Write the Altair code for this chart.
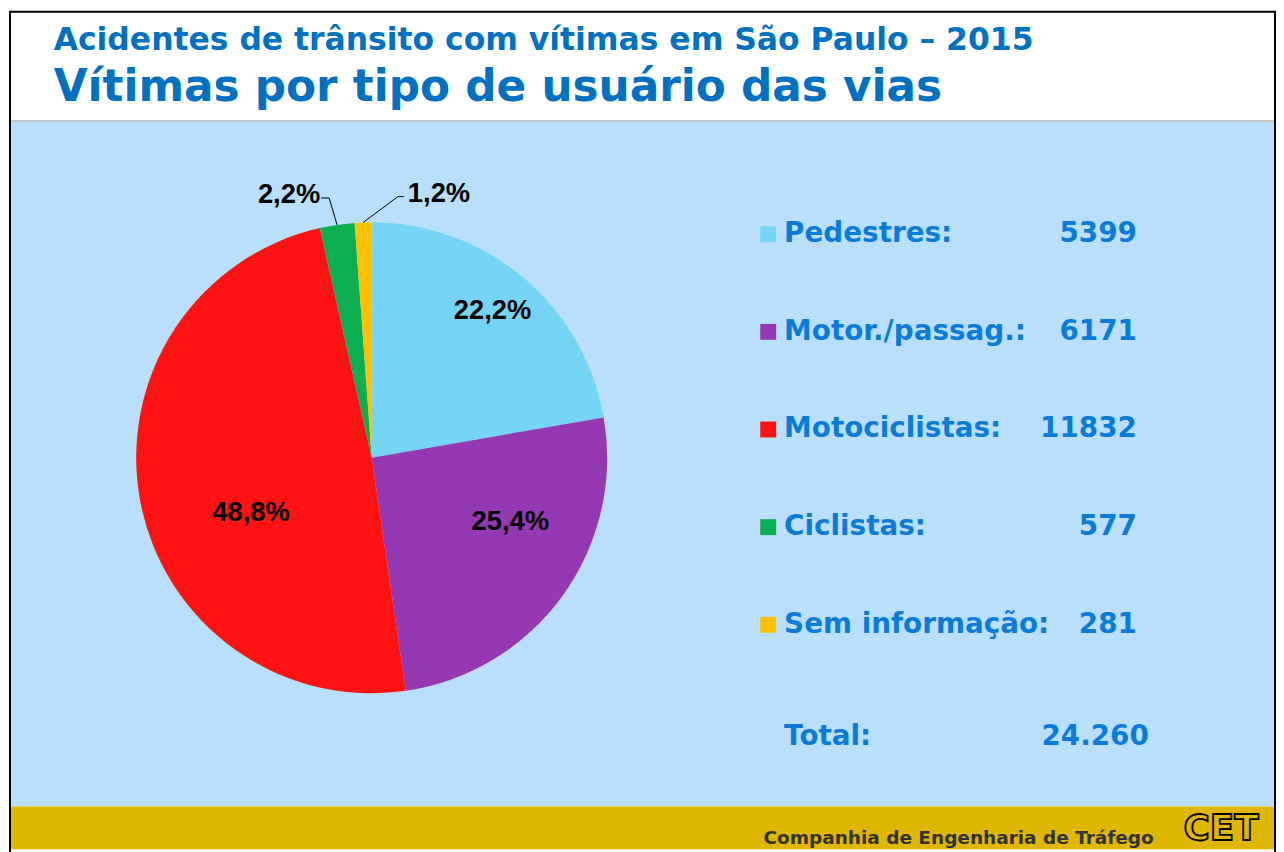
import altair as alt
import pandas as pd

# ---- data ----
categories = ["Pedestres", "Motor./passag.", "Motociclistas", "Ciclistas", "Sem informação"]
legend_labels = ["Pedestres:", "Motor./passag.:", "Motociclistas:", "Ciclistas:", "Sem informação:"]
victims = [5399, 6171, 11832, 577, 281]
pct_labels = ["22,2%", "25,4%", "48,8%", "2,2%", "1,2%"]
slice_colors = ["#76D4F6", "#9539B3", "#FF1212", "#0BAE50", "#FFC000"]

title_1 = "Acidentes de trânsito com vítimas em São Paulo – 2015"
title_2 = "Vítimas por tipo de usuário das vias"
footer_text = "Companhia de Engenharia de Tráfego"

df = pd.DataFrame({
    "cat": categories,
    "legend": legend_labels,
    "value": victims,
    "pct": pct_labels,
    "rank": list(range(1, len(categories) + 1)),
})

W, H = 1276, 844
CX, CY, R = 365, 450, 237
R_IN = 150
BLUE_T = "#0070C0"
BLUE_L = "#0A7CD8"
SANS = "DejaVu Sans"
ARIAL = "Liberation Sans"

base = alt.Chart(df)
deco = alt.Chart(pd.DataFrame({"k": [0]}))

color = alt.Color("cat:N", scale=alt.Scale(domain=categories, range=slice_colors), legend=None)

# ---- background pieces ----
header = deco.mark_rect(color="white").encode(
    x=alt.value(0), x2=alt.value(W), y=alt.value(0), y2=alt.value(111))
panel = deco.mark_rect(color="#B9DFFC").encode(
    x=alt.value(0), x2=alt.value(W), y=alt.value(112), y2=alt.value(801))
sep = deco.mark_rule(color="#C8C8C8", strokeWidth=2).encode(
    x=alt.value(0), x2=alt.value(W), y=alt.value(111))
footer = deco.mark_rect(color="#E0B700").encode(
    x=alt.value(0), x2=alt.value(W), y=alt.value(801), y2=alt.value(H))
frame = deco.mark_rect(fill="transparent", stroke="black", strokeWidth=2).encode(
    x=alt.value(1), x2=alt.value(W - 2), y=alt.value(1), y2=alt.value(H + 10))

t1 = deco.mark_text(text=title_1, align="left", baseline="alphabetic", font=SANS,
                    fontWeight="bold", fontSize=31.6, color=BLUE_T).encode(
    x=alt.value(45), y=alt.value(40))
t2 = deco.mark_text(text=title_2, align="left", baseline="alphabetic", font=SANS,
                    fontWeight="bold", fontSize=44, color=BLUE_T).encode(
    x=alt.value(45), y=alt.value(91))

foot = deco.mark_text(text=footer_text, align="right", baseline="middle", font=SANS,
                      fontWeight="bold", fontSize=18.6, color="#333333").encode(
    x=alt.value(1152), y=alt.value(833))
logo = deco.mark_text(text="CET", align="left", baseline="top", font=SANS, fontWeight="bold",
                      fontSize=36, fill="transparent", stroke="black", strokeWidth=1.8).encode(
    x=alt.value(1182), y=alt.value(807))

# ---- pie ----
theta = alt.Theta("value:Q", stack=True)
order = alt.Order("rank:Q")
pie = base.mark_arc(radius=R).encode(
    theta=theta, order=order, color=color, x=alt.value(CX), y=alt.value(CY))

geo = (base
       .transform_window(cum="sum(value)", sort=[alt.SortField("rank")], frame=[None, 0])
       .transform_joinaggregate(total="sum(value)")
       .transform_calculate(mid="2*PI*(datum.cum - datum.value/2)/datum.total")
       .transform_calculate(ex=f"{CX} + {R}*sin(datum.mid)")
       .transform_calculate(ey=f"{CY} - {R}*cos(datum.mid)")
       .transform_calculate(ix=f"{CX} + {R_IN}*sin(datum.mid)")
       .transform_calculate(iy=f"{CY} - {R_IN}*cos(datum.mid)"))


def inner(catname, ddx, ddy):
    return geo.transform_filter(alt.datum.cat == catname).mark_text(
        align="center", baseline="middle", font=ARIAL, fontWeight="bold",
        fontSize=27.5, color="black", dx=ddx, dy=ddy).encode(
        x=alt.X("ix:Q", scale=None, axis=None), y=alt.Y("iy:Q", scale=None, axis=None),
        text="pct:N")


inner_labels = [
    inner("Pedestres", 25, -33),
    inner("Motor./passag.", 18, -23),
    inner("Motociclistas", 26, 28),
]


def outer(catname, ddx, ddy, tail, align, tdx):
    g = (geo.transform_filter(alt.datum.cat == catname)
         .transform_calculate(bx=f"datum.ex + ({ddx})")
         .transform_calculate(by=f"datum.ey + ({ddy})")
         .transform_calculate(tx=f"datum.bx + ({tail})"))
    seg1 = g.mark_rule(color="black", strokeWidth=1).encode(
        x=alt.X("ex:Q", scale=None, axis=None), y=alt.Y("ey:Q", scale=None, axis=None),
        x2="bx:Q", y2="by:Q")
    seg2 = g.mark_rule(color="black", strokeWidth=1).encode(
        x=alt.X("bx:Q", scale=None, axis=None), y=alt.Y("by:Q", scale=None, axis=None),
        x2="tx:Q")
    lab = g.mark_text(align=align, baseline="middle", font=ARIAL, fontWeight="bold",
                      fontSize=27.5, color="black", dx=tdx, dy=-3).encode(
        x=alt.X("tx:Q", scale=None, axis=None), y=alt.Y("by:Q", scale=None, axis=None),
        text="pct:N")
    return [seg1, seg2, lab]


outer_cic = outer("Ciclistas", -8, -27, -8, "right", -1)
outer_sem = outer("Sem informação", 35, -26, 6, "left", 4)

# ---- custom key on the right ----
leg = base.transform_calculate(ly="225 + (datum.rank - 1) * 98.25")
ly = alt.Y("ly:Q", scale=None, axis=None)
squares = leg.mark_square(size=256, opacity=1).encode(x=alt.value(764), y=ly, color=color)
names = leg.mark_text(align="left", baseline="middle", font=SANS, fontWeight="bold",
                      fontSize=28, color=BLUE_L).encode(x=alt.value(780), y=ly, text="legend:N")
vals = leg.mark_text(align="right", baseline="middle", font=SANS, fontWeight="bold",
                     fontSize=28, color=BLUE_L).encode(
    x=alt.value(1135), y=ly, text=alt.Text("value:Q", format="d"))

total_lbl = deco.mark_text(text="Total:", align="left", baseline="middle", font=SANS,
                           fontWeight="bold", fontSize=28, color=BLUE_L).encode(
    x=alt.value(780), y=alt.value(731))
total_val = (base.transform_aggregate(total="sum(value)")
             .transform_calculate(tl="replace(format(datum.total, ','), ',', '.')")
             .mark_text(align="right", baseline="middle", font=SANS, fontWeight="bold",
                        fontSize=28, color=BLUE_L)
             .encode(x=alt.value(1147), y=alt.value(731), text="tl:N"))

chart = alt.layer(
    header, panel, sep, footer, t1, t2, foot, logo,
    pie, *inner_labels, *outer_cic, *outer_sem,
    squares, names, vals, total_lbl, total_val,
    frame,
).properties(
    width=W, height=H,
    autosize=alt.AutoSizeParams(type="fit", contains="padding"),
    padding=0, background="white",
).configure_view(stroke=None)

chart.save("out.html", embed_options={"renderer": "svg", "actions": False})
